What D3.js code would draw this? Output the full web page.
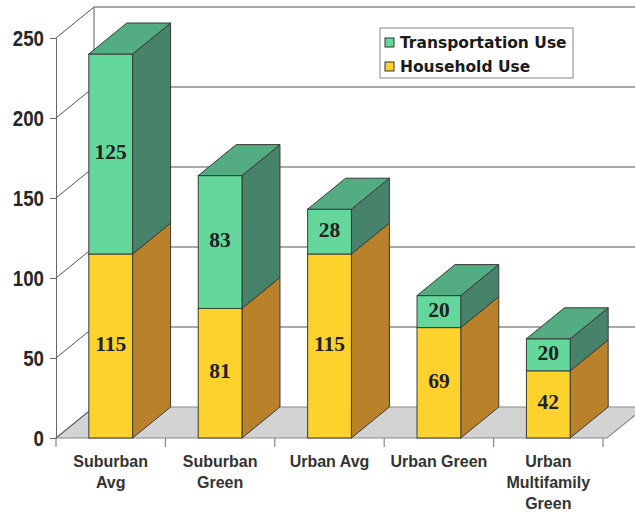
<!DOCTYPE html>
<html>
<head>
<meta charset="utf-8">
<script src="https://cdn.jsdelivr.net/npm/d3@7"></script>
<style>
  body { margin: 0; background: #fff; }
  svg { display: block; }
</style>
</head>
<body>
<div id="chart"></div>
<script>
// data
const categories = ['Suburban Avg', 'Suburban Green', 'Urban Avg', 'Urban Green', 'Urban Multifamily Green'];
const categoryLines = [['Suburban', 'Avg'], ['Suburban', 'Green'], ['Urban Avg'], ['Urban Green'], ['Urban', 'Multifamily', 'Green']];
const householdUse = [115, 81, 115, 69, 42];
const transportationUse = [125, 83, 28, 20, 20];
const yTicks = [0, 50, 100, 150, 200, 250];
const seriesNames = ['Transportation Use', 'Household Use'];

const W = 635, H = 514;
// 3d depth offset
const dx = 38, dy = -31;

const svg = d3.select('#chart').append('svg')
  .attr('width', W)
  .attr('height', H);

const y = d3.scaleLinear().domain([0, 250]).range([438, 38]);

// slots for tick marks, bars sit in the middle 40%
const slot = d3.scaleBand().domain(categories).range([56, 603]).padding(0);
const x = d3.scaleBand().domain(categories).range([56, 603])
  .paddingInner(0.6).paddingOuter(0.3);

const colors = {
  green: { front: '#64d89c', top: '#54ad82', side: '#46836a' },
  yellow: { front: '#fdd22d', top: '#e0b52a', side: '#b9822a' }
};
const lineCol = '#8c8c8c';

// floor
svg.append('path')
  .attr('d', `M56,${y(0)} L${56 + dx},${y(0) + dy} L${W + 10},${y(0) + dy} L${W + 10 - dx},${y(0)} L603,${y(0)} Z`)
  .attr('fill', '#d3d3d3')
  .attr('stroke', '#8a8a8a')
  .attr('stroke-width', 1.2);

// back wall grid lines
svg.append('g').selectAll('line')
  .data(yTicks.filter(d => d > 0))
  .enter().append('line')
  .attr('x1', 56 + dx).attr('x2', W)
  .attr('y1', d => y(d) + dy).attr('y2', d => y(d) + dy)
  .attr('stroke', lineCol).attr('stroke-width', 1.4);

// back wall left edge
svg.append('line')
  .attr('x1', 56 + dx).attr('x2', 56 + dx)
  .attr('y1', y(250) + dy).attr('y2', y(0) + dy)
  .attr('stroke', lineCol).attr('stroke-width', 1.4);

// left wall diagonals
svg.append('g').selectAll('line')
  .data(yTicks)
  .enter().append('line')
  .attr('x1', 56).attr('x2', 56 + dx)
  .attr('y1', d => y(d)).attr('y2', d => y(d) + dy)
  .attr('stroke', '#555').attr('stroke-width', 1);

// y axis
const yAxis = svg.append('g')
  .attr('transform', 'translate(56,0)')
  .call(d3.axisLeft(y).tickValues(yTicks).tickSize(6).tickPadding(6));
yAxis.select('.domain').attr('stroke', '#666');
yAxis.selectAll('.tick line').attr('stroke', '#666');
yAxis.selectAll('text')
  .attr('font-family', 'Liberation Sans Narrow, Arial Narrow, Liberation Sans, sans-serif')
  .attr('font-weight', 'bold')
  .attr('font-size', '22px')
  .attr('fill', '#262626')
  .attr('textLength', d => String(d).length * 10.4)
  .attr('lengthAdjust', 'spacingAndGlyphs');

// x ticks at slot edges
const edges = categories.map(c => slot(c)).concat([slot(categories[4]) + slot.bandwidth()]);
svg.append('g').selectAll('line')
  .data(edges)
  .enter().append('line')
  .attr('x1', d => d).attr('x2', d => d)
  .attr('y1', y(0)).attr('y2', y(0) + 9)
  .attr('stroke', '#888').attr('stroke-width', 1.2);

// x labels
svg.append('g').selectAll('text')
  .data(categories)
  .enter().append('text')
  .attr('x', d => slot(d) + slot.bandwidth() / 2)
  .attr('y', 467)
  .attr('text-anchor', 'middle')
  .attr('font-family', 'Liberation Sans, Arial, sans-serif')
  .attr('font-weight', 'bold')
  .attr('font-size', '16px')
  .attr('fill', '#333')
  .each(function(d, i) {
    const t = d3.select(this);
    categoryLines[i].forEach((ln, k) => {
      t.append('tspan').attr('x', slot(d) + slot.bandwidth() / 2)
        .attr('dy', k === 0 ? 0 : 21).text(ln);
    });
  });

// stacked 3d bars
const stacks = categories.map((c, i) => [
  { cat: c, lo: 0, hi: householdUse[i], v: householdUse[i], col: colors.yellow },
  { cat: c, lo: householdUse[i], hi: householdUse[i] + transportationUse[i], v: transportationUse[i], col: colors.green }
]);

const bars = svg.append('g').selectAll('g')
  .data(stacks)
  .enter().append('g');

bars.each(function(segs) {
  const g = d3.select(this);
  segs.forEach((s, k) => {
    const xl = x(s.cat), xr = xl + x.bandwidth();
    const yt = y(s.hi), yb = y(s.lo);
    // side face
    g.append('path')
      .attr('d', `M${xr},${yb} L${xr + dx},${yb + dy} L${xr + dx},${yt + dy} L${xr},${yt} Z`)
      .attr('fill', s.col.side).attr('stroke', '#3a3a3a').attr('stroke-width', 1);
    // front face
    g.append('rect')
      .attr('x', xl).attr('y', yt)
      .attr('width', x.bandwidth()).attr('height', yb - yt)
      .attr('fill', s.col.front).attr('stroke', '#3a3a3a').attr('stroke-width', 1);
    // top only on last segment
    if (k === segs.length - 1) {
      g.append('path')
        .attr('d', `M${xl},${yt} L${xl + dx},${yt + dy} L${xr + dx},${yt + dy} L${xr},${yt} Z`)
        .attr('fill', s.col.top).attr('stroke', '#3a3a3a').attr('stroke-width', 1);
    }
    g.append('text')
      .attr('x', xl + x.bandwidth() / 2)
      .attr('y', (yt + yb) / 2 + 5)
      .attr('text-anchor', 'middle')
      .attr('font-family', 'Liberation Serif, Times New Roman, serif')
      .attr('font-weight', 'bold')
      .attr('font-size', '21.5px')
      .attr('fill', '#222')
      .text(s.v);
  });
});

// legend
const legend = svg.append('g');
legend.append('rect')
  .attr('x', 380).attr('y', 28).attr('width', 193).attr('height', 50)
  .attr('fill', '#fff').attr('stroke', '#888').attr('stroke-width', 1);
seriesNames.forEach((name, i) => {
  const c = i === 0 ? colors.green.front : colors.yellow.front;
  legend.append('rect')
    .attr('x', 385).attr('y', 38 + i * 24).attr('width', 9).attr('height', 9)
    .attr('fill', c).attr('stroke', '#333').attr('stroke-width', 1);
  legend.append('text')
    .attr('x', 400).attr('y', 48 + i * 24)
    .attr('font-family', 'DejaVu Sans, Verdana, sans-serif')
    .attr('font-weight', 'bold')
    .attr('font-size', '15.5px')
    .attr('fill', '#1a1a1a')
    .text(name);
});
</script>
</body>
</html>
